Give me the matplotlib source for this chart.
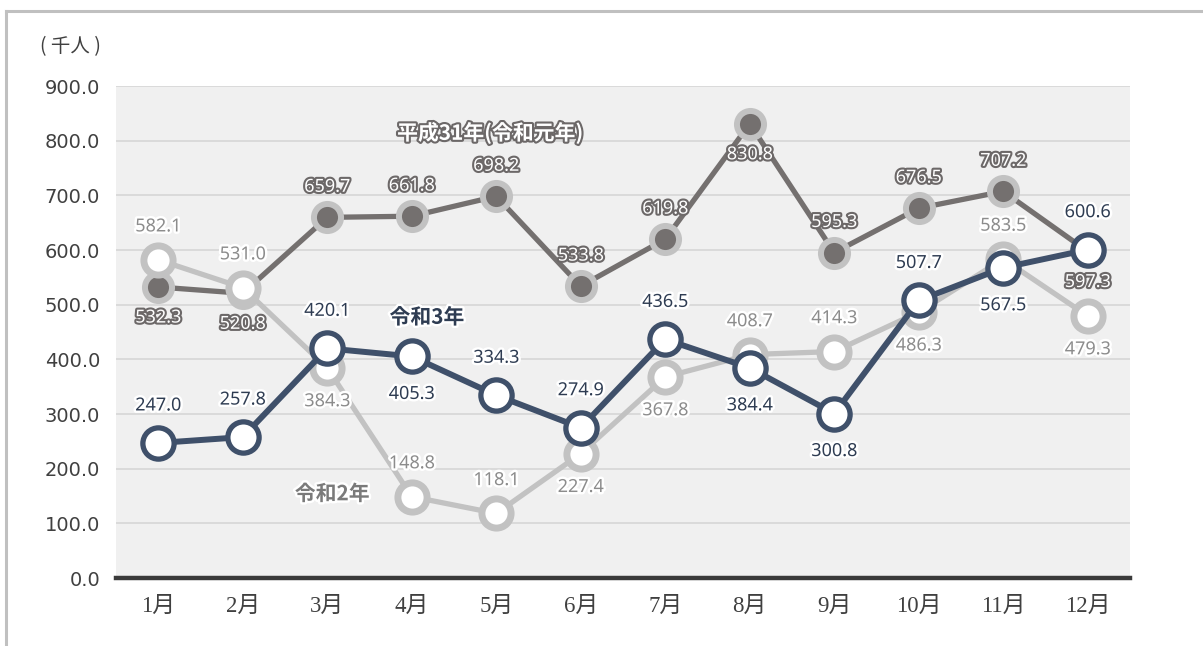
import matplotlib
matplotlib.use("Agg")
import matplotlib.pyplot as plt
import matplotlib.patheffects as pe
from matplotlib.lines import Line2D

plt.rcParams['font.family'] = ['Noto Sans CJK JP', 'DejaVu Sans']

months = ["1月", "2月", "3月", "4月", "5月", "6月", "7月", "8月", "9月", "10月", "11月", "12月"]
h31 = [532.3, 520.8, 659.7, 661.8, 698.2, 533.8, 619.8, 830.8, 595.3, 676.5, 707.2, 597.3]
r2 = [582.1, 531.0, 384.3, 148.8, 118.1, 227.4, 367.8, 408.7, 414.3, 486.3, 583.5, 479.3]
r3 = [247.0, 257.8, 420.1, 405.3, 334.3, 274.9, 436.5, 384.4, 300.8, 507.7, 567.5, 600.6]
yticks = [0, 100, 200, 300, 400, 500, 600, 700, 800, 900]

# label direction: 1 above, -1 below
h31_dir = [-1, -1, 1, 1, 1, 1, 1, -1, 1, 1, 1, -1]
r2_dir = [1, 1, -1, 1, 1, -1, -1, 1, 1, -1, 1, -1]
r3_dir = [1, 1, 1, -1, 1, 1, 1, -1, -1, 1, -1, 1]

W, H = 1203, 646
fig = plt.figure(figsize=(W / 100, H / 100), dpi=100)
ax = fig.add_axes([116 / W, 1 - 578 / H, (1130 - 116) / W, (578 - 86) / H])

ax.set_facecolor('#f0f0f0')
ax.set_xlim(-0.5, 11.5)
ax.set_ylim(0, 900)
ax.set_yticks(yticks)
ax.set_yticklabels([f"{v:.1f}" for v in yticks], fontsize=14, color='#404040',
                   family=['DejaVu Sans'])
x = list(range(len(months)))
ax.set_xticks(x)
ax.set_xticklabels(months, fontsize=16.5, color='#404040',
                   family=['Liberation Serif', 'Noto Sans CJK JP'])
ax.tick_params(length=0)
ax.tick_params(axis='y', pad=11.5)
ax.tick_params(axis='x', pad=13)
for s in ['left', 'right', 'top']:
    ax.spines[s].set_visible(False)
ax.spines['bottom'].set_color('#3a3a3a')
ax.spines['bottom'].set_linewidth(3.2)
ax.spines['bottom'].set_zorder(10)
ax.grid(axis='y', color='#d8d8d8', linewidth=1.3)
ax.set_axisbelow(True)

navy = '#3f506a'
dgray = '#74706f'
lgray = '#c2c2c2'

ax.plot(x, h31, color=dgray, lw=3.8, marker='o', ms=19.5, mfc=dgray, mec=lgray, mew=4.3, zorder=3)
ax.plot(x, r2, color=lgray, lw=3.8, marker='o', ms=21, mfc='white', mec=lgray, mew=5, zorder=4)
ax.plot(x, r3, color=navy, lw=4.3, marker='o', ms=22.5, mfc='white', mec=navy, mew=3.8, zorder=5)

glow = [pe.withStroke(linewidth=3.5, foreground='white')]
stroke = [pe.withStroke(linewidth=3, foreground='#6c6868')]
lab_font = ['Noto Sans', 'DejaVu Sans']
for xi, v, d in zip(x, h31, h31_dir):
    ax.annotate(f"{v:.1f}", (xi, v), xytext=(0, d * 22), textcoords='offset points',
                ha='center', va='center', fontsize=13, color='white', path_effects=stroke,
                fontweight='bold', zorder=6, family=lab_font)
for xi, v, d in zip(x, r2, r2_dir):
    ax.annotate(f"{v:.1f}", (xi, v), xytext=(0, d * 24), textcoords='offset points',
                ha='center', va='center', fontsize=13, color='#8c8c8c', path_effects=glow,
                zorder=6, family=lab_font)
for xi, v, d in zip(x, r3, r3_dir):
    ax.annotate(f"{v:.1f}", (xi, v), xytext=(0, d * 27), textcoords='offset points',
                ha='center', va='center', fontsize=13, color='#2e3c52', path_effects=glow,
                fontweight='bold', zorder=7, family=lab_font)

ax.text(3.93, 814, "平成31年(令和元年)", ha='center', va='center', fontsize=15, color='white',
        fontweight='bold', path_effects=stroke, zorder=8)
ax.text(3.18, 477, "令和3年", ha='center', va='center', fontsize=15, color='#2e3c52',
        fontweight='bold', path_effects=glow, zorder=8)
ax.text(2.06, 154, "令和2年", ha='center', va='center', fontsize=15, color='#7a7a7a',
        fontweight='bold', path_effects=glow, zorder=8)

fig.text(70 / W, 1 - 47 / H, "( 千人 )", ha='center', va='center', fontsize=14, color='#404040')

# outer frame (top and left)
fig.add_artist(Line2D([6 / W, 1], [1 - 11 / H, 1 - 11 / H], color='#c0c0c0', lw=2.2,
                      transform=fig.transFigure))
fig.add_artist(Line2D([6 / W, 6 / W], [0, 1 - 11 / H], color='#c0c0c0', lw=2.2,
                      transform=fig.transFigure))

fig.savefig('out.png', dpi=100, facecolor='white')
